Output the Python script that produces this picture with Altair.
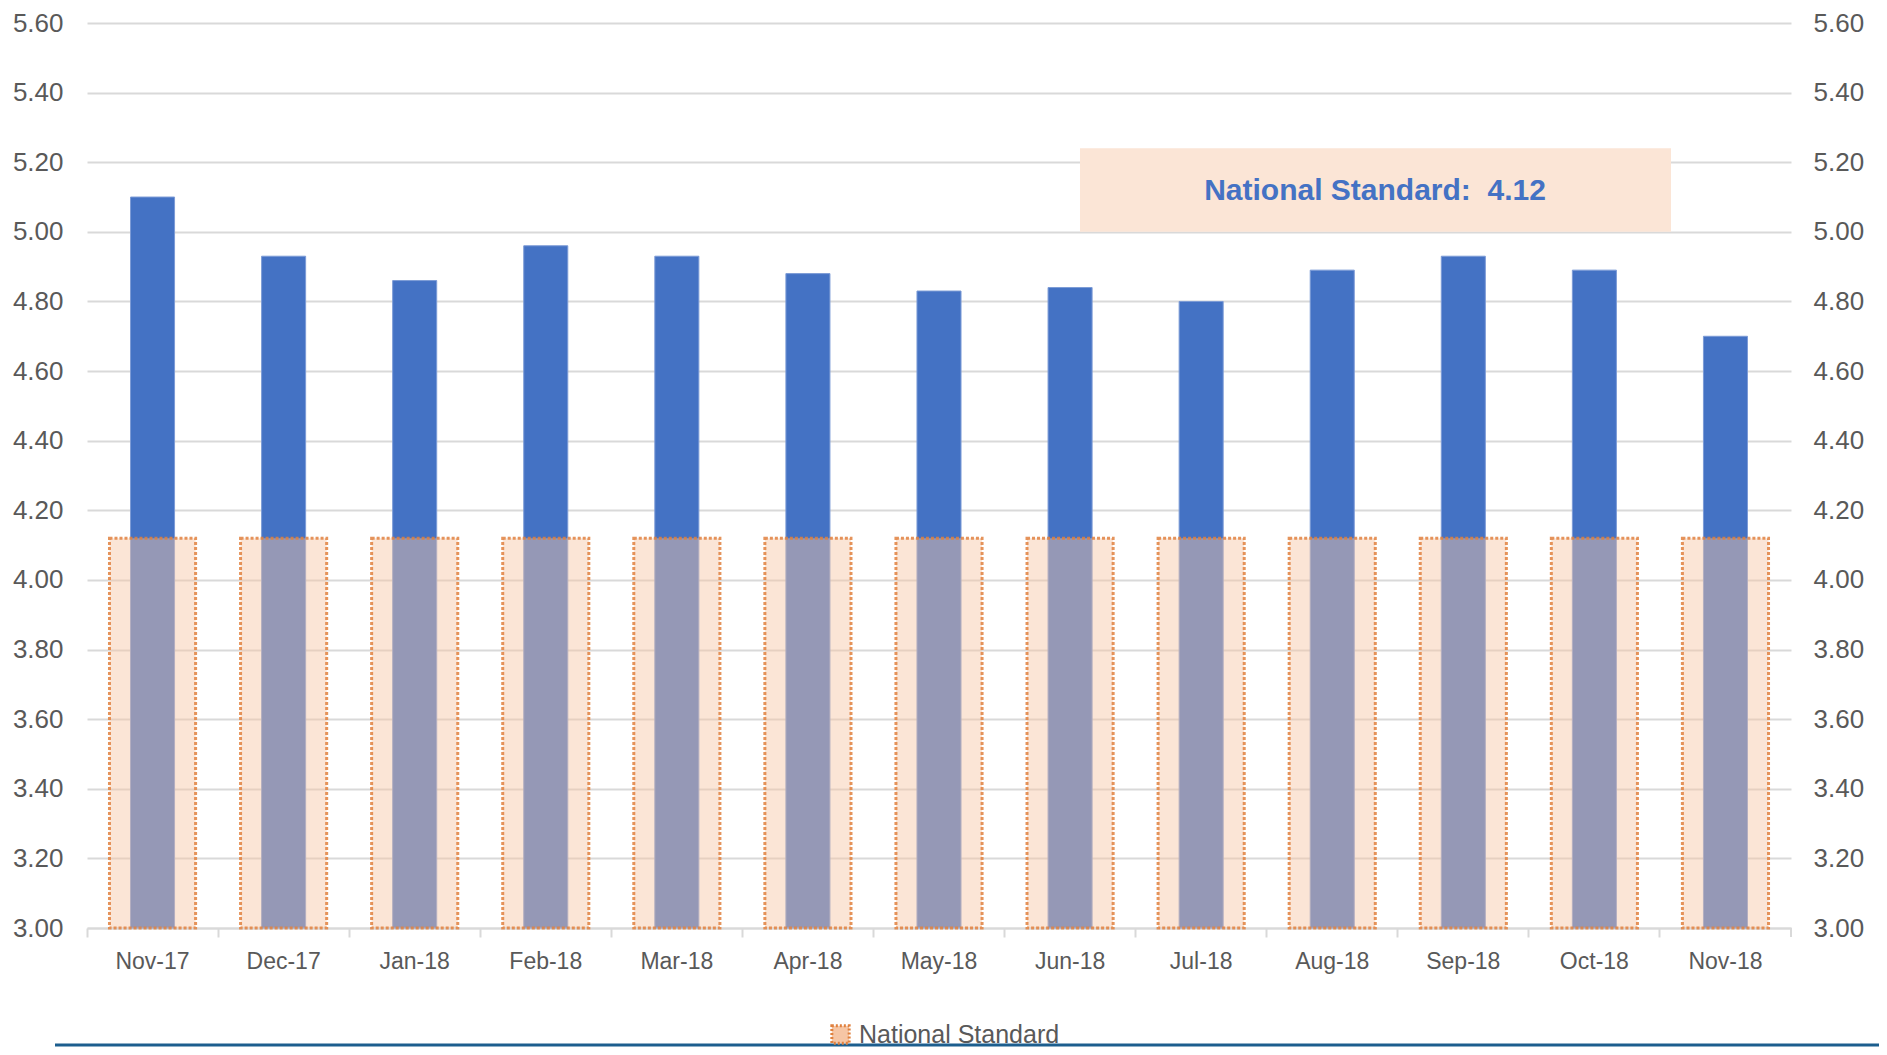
import altair as alt
import pandas as pd

months = ["Nov-17", "Dec-17", "Jan-18", "Feb-18", "Mar-18", "Apr-18", "May-18",
          "Jun-18", "Jul-18", "Aug-18", "Sep-18", "Oct-18", "Nov-18"]
actual = [5.10, 4.93, 4.86, 4.96, 4.93, 4.88, 4.83, 4.84, 4.80, 4.89, 4.93, 4.89, 4.70]
standard = [4.12] * 13
y_ticks = [3.0, 3.2, 3.4, 3.6, 3.8, 4.0, 4.2, 4.4, 4.6, 4.8, 5.0, 5.2, 5.4, 5.6]
series_name = "National Standard"
note_text = "National Standard:\u00a0 4.12"

df = pd.DataFrame({"month": months, "actual": actual, "standard": standard,
                   "series": [series_name] * 13})

W, H = 1704, 905
PAD_L, PAD_T = 79, 15
TOTAL_W, TOTAL_H = 1871, 1039
FONT = "Liberation Sans"
GREY = "#595959"
GRID = "#D9D9D9"

x_enc = alt.X("month:N", sort=months,
              scale=alt.Scale(paddingInner=0, paddingOuter=0),
              axis=alt.Axis(title=None, labelAngle=0, labelFontSize=23, labelFont=FONT,
                            labelColor=GREY, labelPadding=13, bandPosition=0,
                            tickSize=9, tickColor=GRID, tickWidth=2,
                            domainColor=GRID, domainWidth=2, grid=False))
y_scale = alt.Scale(domain=[3.0, 5.6], nice=False, zero=False)

base = alt.Chart(df)

blue = base.mark_bar(width={"band": 0.336}, color="#4472C4",
                     stroke="#7C9BD6", strokeWidth=1).encode(
    x=x_enc,
    y=alt.Y("actual:Q", scale=y_scale,
            axis=alt.Axis(title=None, orient="left", values=y_ticks, format=".2f",
                          labelFontSize=26, labelFont=FONT, labelColor=GREY,
                          labelPadding=24, ticks=False, domain=False,
                          grid=True, gridColor=GRID, gridWidth=2)),
    y2=alt.datum(3.0),
)

orange = base.mark_bar(width={"band": 0.657}, fillOpacity=0.455,
                       stroke="#E0813F", strokeWidth=3, strokeDash=[3, 2],
                       strokeOpacity=0.85).encode(
    x=x_enc,
    y=alt.Y("standard:Q", scale=y_scale,
            axis=alt.Axis(title=None, orient="right", values=y_ticks, format=".2f",
                          labelFontSize=26, labelFont=FONT, labelColor=GREY,
                          labelPadding=22, ticks=False, domain=False, grid=False)),
    y2=alt.datum(3.0),
    color=alt.Color("series:N",
                    scale=alt.Scale(domain=[series_name], range=["#F6C6A5"]),
                    legend=alt.Legend(title=None, orient="none", legendX=741, legendY=999,
                                      symbolType="square", symbolSize=300,
                                      symbolFillColor="#FBE5D6", symbolStrokeColor="#E0813F",
                                      symbolStrokeWidth=3, symbolDash=[2, 2],
                                      symbolOpacity=1, labelLimit=0,
                                      labelFontSize=25, labelFont=FONT, labelColor=GREY,
                                      labelOffset=6)),
)

note_df = pd.DataFrame({"top": [5.24], "bottom": [5.0], "mid": [5.117], "label": [note_text]})
note_box = alt.Chart(note_df).mark_rect(color="#FBE5D6").encode(
    x=alt.value(993), x2=alt.value(1584),
    y=alt.Y("top:Q", scale=y_scale, axis=None),
    y2="bottom:Q",
)
note_txt = alt.Chart(note_df).mark_text(font=FONT, fontSize=30, fontWeight="bold",
                                        color="#4472C4", align="center",
                                        baseline="middle").encode(
    x=alt.value(1288),
    y=alt.Y("mid:Q", scale=y_scale, axis=None),
    text="label:N",
)

end_tick = alt.Chart(note_df).mark_rule(color=GRID, strokeWidth=2).encode(
    x=alt.value(W), y=alt.value(H), y2=alt.value(H + 9))

bottom_line = alt.Chart(note_df).mark_rule(color="#1C5E8E", strokeWidth=3).encode(
    x=alt.value(-32), x2=alt.value(TOTAL_W - PAD_L), y=alt.value(TOTAL_H - PAD_T - 2))

chart = alt.layer(blue, orange, note_box, note_txt, end_tick, bottom_line).resolve_axis(
    y="independent"
).properties(
    width=W, height=H,
    autosize=alt.AutoSizeParams(type="none"),
    padding={"left": PAD_L, "top": PAD_T, "right": TOTAL_W - PAD_L - W,
             "bottom": TOTAL_H - PAD_T - H},
).configure_view(stroke=None)

chart.save("out.html", embed_options={"renderer": "svg", "actions": False})
